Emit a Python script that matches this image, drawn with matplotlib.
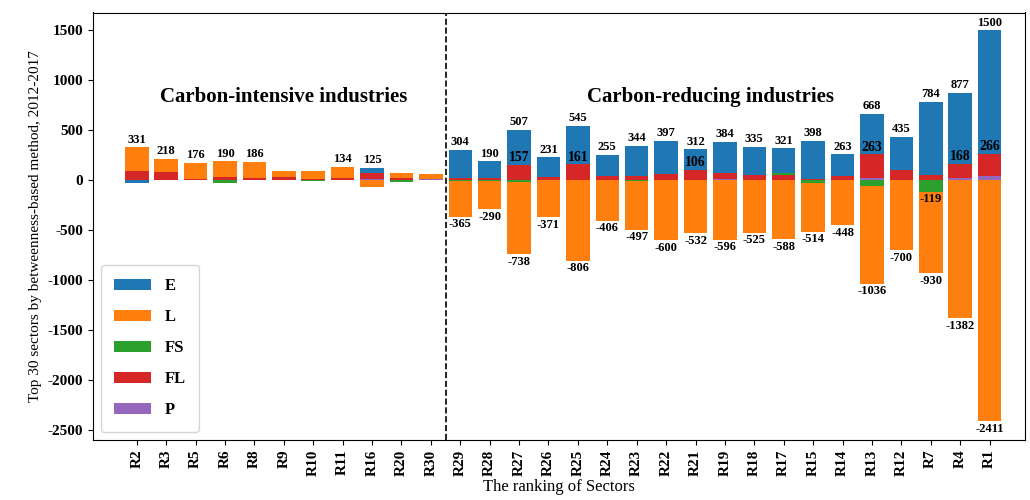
import numpy as np
import matplotlib.pyplot as plt

plt.rcParams['font.family'] = 'Liberation Serif'
plt.rcParams['axes.unicode_minus'] = False

sectors = ['R2', 'R3', 'R5', 'R6', 'R8', 'R9', 'R10', 'R11', 'R16', 'R20', 'R30',
           'R29', 'R28', 'R27', 'R26', 'R25', 'R24', 'R23', 'R22', 'R21', 'R19',
           'R18', 'R17', 'R15', 'R14', 'R13', 'R12', 'R7', 'R4', 'R1']
E = [-30, 0, 0, 0, 0, 0, 0, 0, 55, 0, 0,
     284, 170, 350, 201, 384, 210, 299, 337, 206, 309,
     285, 251, 383, 223, 405, 335, 734, 709, 1234]
L = [241, 138, 166, 160, 161, 60, 80, 114, -70, 55, 50,
     -355, -280, -723, -371, -806, -406, -487, -600, -532, -596,
     -525, -588, -484, -448, -981, -700, -811, -1382, -2411]
FS = [0, 0, 0, -25, 0, 0, -10, 0, 0, -20, 0,
      -10, -10, -15, 0, 0, 0, -10, 0, 0, 0,
      0, 20, -30, 0, -55, 0, -119, 0, 0]
FL = [85, 75, 10, 25, 20, 30, 15, 15, 60, 20, 0,
      20, 15, 152, 25, 156, 40, 45, 60, 106, 65,
      50, 50, 15, 40, 243, 100, 50, 143, 226]
P = [5, 5, 0, 5, 5, 0, 0, 5, 10, 0, 10,
     0, 5, 5, 5, 5, 5, 0, 0, 0, 10,
     0, 0, 0, 0, 20, 0, 0, 25, 40]
fl_labels = {13: 157, 15: 161, 19: 106, 25: 263, 28: 168, 29: 266}

series = [('P', P, '#9467bd'), ('FL', FL, '#d62728'), ('FS', FS, '#2ca02c'),
          ('L', L, '#ff7f0e'), ('E', E, '#1f77b4')]

fig, ax = plt.subplots(figsize=(10.3, 5), dpi=100)
x = np.arange(len(sectors))
pos = np.zeros(len(x))
neg = np.zeros(len(x))
handles = {}
for name, vals, col in series:
    v = np.array(vals, dtype=float)
    bottom = np.where(v >= 0, pos, neg)
    h = ax.bar(x, v, 0.8, bottom=bottom, color=col, label=name)
    handles[name] = h
    pos += np.where(v >= 0, v, 0)
    neg += np.where(v < 0, v, 0)

kw = dict(ha='center', fontsize=9, fontweight='bold')
for i in x:
    if i not in (5, 6, 9, 10):
        ax.text(i, pos[i] + 15, f'{int(pos[i])}', va='bottom', **kw)
    if i >= 11:
        ax.text(i, neg[i] - 15, f'{int(neg[i])}', va='top', **kw)
for i, v in fl_labels.items():
    ax.text(i, v + 5, str(v), va='bottom', fontsize=10, fontweight='bold', ha='center')
ax.text(27, FS[27] - 10, str(FS[27]), va='top', **kw)

ax.axvline(10.5, color='k', linestyle='--', lw=1.2)
ax.text(5, 780, 'Carbon-intensive industries', ha='center', fontsize=15, fontweight='bold')
ax.text(19.5, 780, 'Carbon-reducing industries', ha='center', fontsize=15, fontweight='bold')

ax.set_xticks(x)
ax.set_xticklabels(sectors, rotation=90, fontweight='bold', fontsize=11)
ax.set_xlim(-1.5, 30.2)
ax.set_ylim(-2600, 1680)
ax.set_yticks(range(-2500, 1501, 500))
for t in ax.get_yticklabels():
    t.set_fontweight('bold')
    t.set_fontsize(11)
ax.set_ylabel('Top 30 sectors by betweenness-based method, 2012-2017', fontsize=11)
ax.set_xlabel('The ranking of Sectors', fontsize=12, labelpad=2)
ax.legend([handles[k] for k in ['E', 'L', 'FS', 'FL', 'P']], ['E', 'L', 'FS', 'FL', 'P'],
          loc='lower left', prop={'weight': 'bold', 'size': 12}, handlelength=2.2,
          borderpad=0.8, labelspacing=0.9)
fig.subplots_adjust(left=0.09, right=0.995, top=0.975, bottom=0.12)
fig.savefig('out.png')
